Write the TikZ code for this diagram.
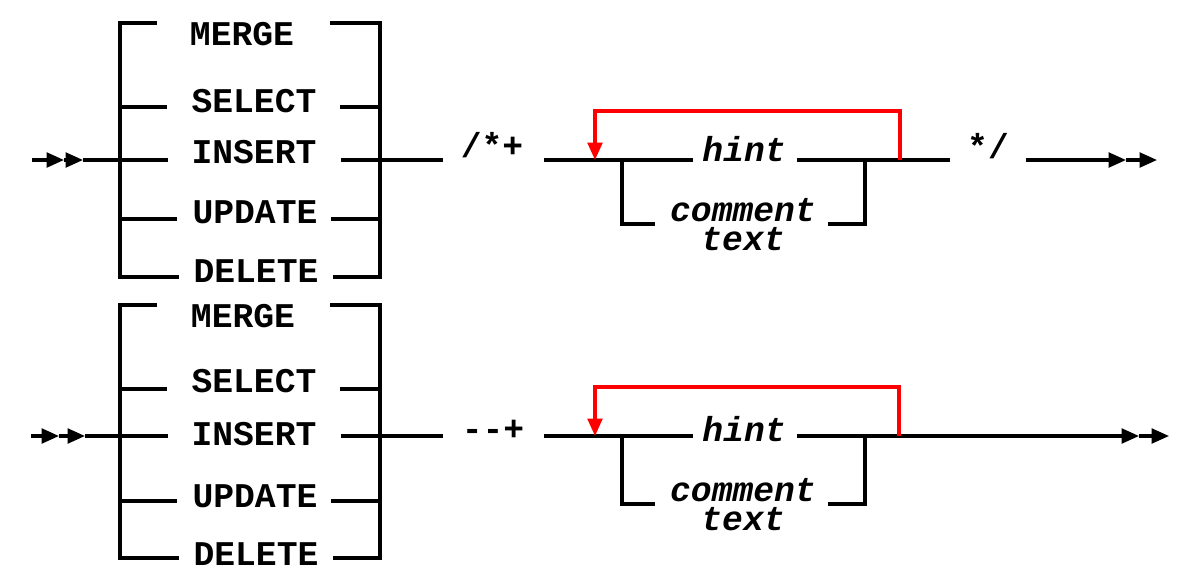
\documentclass[tikz,border=0pt]{standalone}
\usepackage{fontspec}
\setmonofont{Liberation Mono}
\usetikzlibrary{arrows.meta}
\begin{document}
\begin{tikzpicture}[x=0.75pt,y=-0.75pt,
  kw/.style={font=\ttfamily\bfseries\fontsize{26}{26}\selectfont, inner sep=0pt, anchor=base},
  it/.style={font=\ttfamily\bfseries\itshape\fontsize{26}{26}\selectfont, inner sep=0pt, anchor=base},
  brk/.style={line width=3pt, line cap=rect},
  ln/.style={line width=2.3pt},
  loopln/.style={line width=2.3pt, red},
  tip/.style={-{Triangle[length=13pt,width=11pt]}},
  redtip/.style={-{Triangle[length=13pt,width=11pt]}}
]
\useasboundingbox (0,0) rectangle (1184,576);

% ================= TOP DIAGRAM =================
\coordinate (tS) at (32,160);
\coordinate (tA1) at (64,160);
\coordinate (tA2) at (83,160);
\coordinate (tLt) at (120,23);
\coordinate (tLb) at (120,277);
\coordinate (tLm) at (120,160);
\coordinate (tRt) at (380,23);
\coordinate (tRb) at (380,277);
\coordinate (tRm) at (380,160);
\draw[ln,tip] (tS) -- (tA1);
\draw[ln,tip] (tA1) -- (tA2);
\draw[ln] (tA2) -- (tLm);
\draw[brk] (tLt) -- (tLb);
\draw[brk] (tRt) -- (tRb);

\node[kw] (tMerge)  at (242,45)  {MERGE};
\node[kw] (tSelect) at (254,112) {SELECT};
\node[kw] (tInsert) at (254,163) {INSERT};
\node[kw] (tUpdate) at (255,223) {UPDATE};
\node[kw] (tDelete) at (256,282) {DELETE};

\coordinate (tM1) at (155,23);  \coordinate (tM2) at (332,23);
\coordinate (tS0) at (120,107); \coordinate (tS1) at (165,107);
\coordinate (tS2) at (342,107); \coordinate (tS3) at (380,107);
\coordinate (tI1) at (166,160); \coordinate (tI2) at (343,160);
\coordinate (tU0) at (120,219); \coordinate (tU1) at (175,219);
\coordinate (tU2) at (333,219); \coordinate (tU3) at (380,219);
\coordinate (tD1) at (177,277); \coordinate (tD2) at (335,277);
\draw[brk] (tLt) -- (tM1);
\draw[brk] (tM2) -- (tRt);
\draw[brk] (tS0) -- (tS1);
\draw[brk] (tS2) -- (tS3);
\draw[brk] (tLm) -- (tI1);
\draw[brk] (tI2) -- (tRm);
\draw[brk] (tU0) -- (tU1);
\draw[brk] (tU2) -- (tU3);
\draw[brk] (tLb) -- (tD1);
\draw[brk] (tD2) -- (tRb);

\coordinate (tE1) at (443,160);
\draw[ln] (tRm) -- (tE1);
\node[kw] (tOpen) at (492,157) {/*+};
\coordinate (tH0) at (544,160);
\coordinate (tRedL) at (595,160);
\coordinate (tJ1) at (622,160);
\coordinate (tH1) at (693,160);
\node[it] (tHint) at (744,161) {hint};
\coordinate (tH2) at (797,160);
\coordinate (tJ2) at (865,160);
\coordinate (tRedR) at (900,160);
\coordinate (tH3) at (950,160);
\draw[ln] (tH0) -- (tH1);
\draw[ln] (tH2) -- (tH3);
\coordinate (tC1) at (622,224); \coordinate (tC2) at (655,224);
\coordinate (tC3) at (828,224); \coordinate (tC4) at (865,224);
\draw[ln] (tJ1) -- (tC1) -- (tC2);
\draw[ln] (tC3) -- (tC4) -- (tJ2);
\node[it] (tCom)  at (743,221) {comment};
\node[it] (tText) at (743,250) {text};
\coordinate (tRed1) at (900,111); \coordinate (tRed2) at (595,111);
\draw[loopln,redtip] (tRedR) -- (tRed1) -- (tRed2) -- (tRedL);
\node[kw] (tClose) at (988,158) {*/};
\coordinate (tX0) at (1026,160);
\coordinate (tX1) at (1126,160);
\coordinate (tX2) at (1157,160);
\draw[ln,tip] (tX0) -- (tX1);
\draw[ln,tip] (tX1) -- (tX2);

% ================= BOTTOM DIAGRAM =================
\coordinate (bS) at (31,436);
\coordinate (bA1) at (59,436);
\coordinate (bA2) at (85,436);
\coordinate (bLt) at (120,305);
\coordinate (bLb) at (120,558);
\coordinate (bLm) at (120,436);
\coordinate (bRt) at (380,305);
\coordinate (bRb) at (380,558);
\coordinate (bRm) at (380,436);
\draw[ln,tip] (bS) -- (bA1);
\draw[ln,tip] (bA1) -- (bA2);
\draw[ln] (bA2) -- (bLm);
\draw[brk] (bLt) -- (bLb);
\draw[brk] (bRt) -- (bRb);

\node[kw] (bMerge)  at (243,327) {MERGE};
\node[kw] (bSelect) at (254,392) {SELECT};
\node[kw] (bInsert) at (254,445) {INSERT};
\node[kw] (bUpdate) at (255,507) {UPDATE};
\node[kw] (bDelete) at (256,565) {DELETE};

\coordinate (bM1) at (155,305);  \coordinate (bM2) at (332,305);
\coordinate (bS0) at (120,389); \coordinate (bS1) at (165,389);
\coordinate (bS2) at (342,389); \coordinate (bS3) at (380,389);
\coordinate (bI1) at (166,436); \coordinate (bI2) at (343,436);
\coordinate (bU0) at (120,501); \coordinate (bU1) at (175,501);
\coordinate (bU2) at (333,501); \coordinate (bU3) at (380,501);
\coordinate (bD1) at (177,558); \coordinate (bD2) at (335,558);
\draw[brk] (bLt) -- (bM1);
\draw[brk] (bM2) -- (bRt);
\draw[brk] (bS0) -- (bS1);
\draw[brk] (bS2) -- (bS3);
\draw[brk] (bLm) -- (bI1);
\draw[brk] (bI2) -- (bRm);
\draw[brk] (bU0) -- (bU1);
\draw[brk] (bU2) -- (bU3);
\draw[brk] (bLb) -- (bD1);
\draw[brk] (bD2) -- (bRb);

\coordinate (bE1) at (443,436);
\draw[ln] (bRm) -- (bE1);
\node[kw] (bOpen) at (493,440) {-{}-+};
\coordinate (bH0) at (544,436);
\coordinate (bRedL) at (595,436);
\coordinate (bJ1) at (622,436);
\coordinate (bH1) at (693,436);
\node[it] (bHint) at (744,441) {hint};
\coordinate (bH2) at (797,436);
\coordinate (bJ2) at (865,436);
\coordinate (bRedR) at (899,436);
\coordinate (bX1) at (1139,436);
\coordinate (bX2) at (1169,436);
\draw[ln] (bH0) -- (bH1);
\draw[ln,tip] (bH2) -- (bX1);
\draw[ln,tip] (bX1) -- (bX2);
\coordinate (bC1) at (622,504); \coordinate (bC2) at (655,504);
\coordinate (bC3) at (828,504); \coordinate (bC4) at (865,504);
\draw[ln] (bJ1) -- (bC1) -- (bC2);
\draw[ln] (bC3) -- (bC4) -- (bJ2);
\node[it] (bCom)  at (743,501) {comment};
\node[it] (bText) at (743,530) {text};
\coordinate (bRed1) at (899,387); \coordinate (bRed2) at (595,387);
\draw[loopln,redtip] (bRedR) -- (bRed1) -- (bRed2) -- (bRedL);
\end{tikzpicture}
\end{document}
